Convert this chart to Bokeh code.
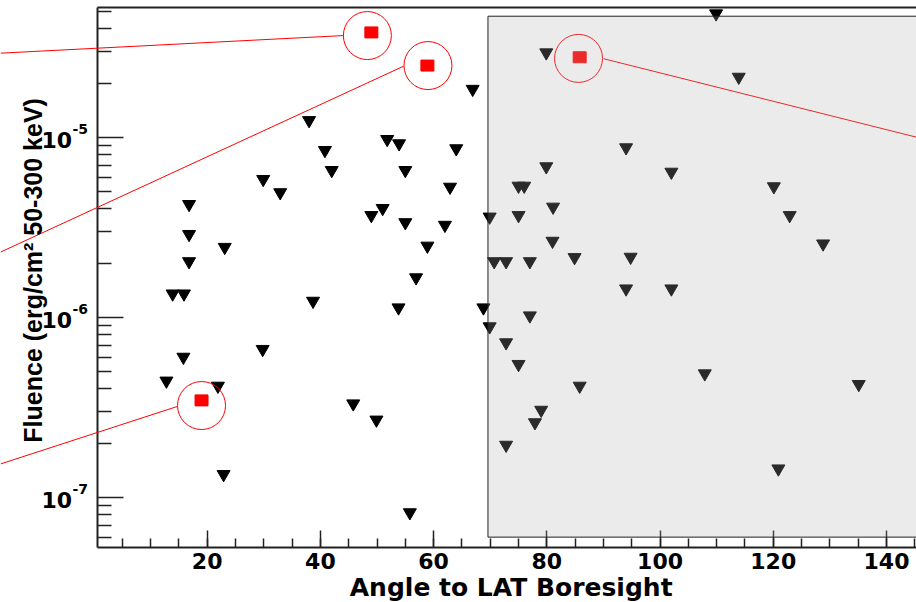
import math
from bokeh.plotting import figure
from bokeh.models import (Range1d, SingleIntervalTicker, FixedTicker, CustomJSTickFormatter,
                          Label, BoxAnnotation, Arrow)
from bokeh.embed import file_html
from bokeh.resources import INLINE

# ---------------- data ----------------
angle = [12.8, 13.9, 15.9, 15.8, 16.8, 16.8, 16.8, 21.9, 22.9, 23.1, 29.9, 32.9, 29.8,
         38.0, 40.8, 42.0, 51.8, 53.9, 55.0, 64.0, 62.9, 66.9, 79.9, 79.9, 75.0, 76.0,
         109.9, 113.9, 94.0, 102.0, 120.1, 51.0, 49.0, 55.0, 62.0, 69.9, 75.0, 81.1,
         58.9, 81.0, 70.7, 72.8, 77.0, 84.9, 56.9, 38.7, 53.8, 68.8, 69.9, 77.0, 72.8,
         75.0, 85.8, 122.9, 128.8, 94.8, 94.0, 102.0, 107.9, 135.1, 45.8, 49.9, 55.8,
         79.0, 77.9, 72.8, 120.9]
fluence = [4.43e-7, 1.35e-6, 1.35e-6, 6.01e-7, 4.24e-6, 2.89e-6, 2.04e-6, 4.15e-7, 1.34e-7,
           2.45e-6, 5.84e-6, 4.93e-6, 6.64e-7, 1.24e-5, 8.46e-6, 6.55e-6, 9.74e-6, 9.22e-6,
           6.55e-6, 8.65e-6, 5.29e-6, 1.85e-5, 2.95e-5, 6.87e-6, 5.36e-6, 5.36e-6, 4.86e-5,
           2.16e-5, 8.76e-6, 6.41e-6, 5.32e-6, 4.03e-6, 3.68e-6, 3.36e-6, 3.25e-6, 3.61e-6,
           3.68e-6, 4.10e-6, 2.49e-6, 2.65e-6, 2.04e-6, 2.04e-6, 2.04e-6, 2.15e-6, 1.66e-6,
           1.23e-6, 1.13e-6, 1.13e-6, 8.87e-7, 1.02e-6, 7.23e-7, 5.48e-7, 4.15e-7, 3.68e-6,
           2.56e-6, 2.16e-6, 1.44e-6, 1.44e-6, 4.86e-7, 4.24e-7, 3.31e-7, 2.69e-7, 8.22e-8,
           3.05e-7, 2.60e-7, 1.95e-7, 1.44e-7]

# detected bursts (red squares)
det_angle = [49.0, 58.9, 85.8, 19.0]
det_fluence = [3.82e-5, 2.50e-5, 2.78e-5, 3.45e-7]

# callout circles around detections
ring_angle = [48.3, 59.0, 85.6, 19.0]
ring_fluence = [3.67e-5, 2.50e-5, 2.74e-5, 3.23e-7]

# callout lines (start at ring edge, run off towards insets)
call_x0 = [44.1, 54.7, 90.0, 14.7]
call_y0 = [3.67e-5, 2.48e-5, 2.73e-5, 3.19e-7]
call_x1 = [-16.5, -16.5, 145.3, -16.5]
call_y1 = [2.93e-5, 2.30e-6, 1.00e-5, 1.53e-7]

# shaded region
region_left = 69.6
region_top = 4.70e-5
region_bottom = 6.0e-8

x_ticks_interval = 20
y_major = [1e-7, 1e-6, 1e-5]
y_exponents = ["-7", "-6", "-5"]
x_title = "Angle to LAT Boresight"
y_title = "Fluence (erg/cm\u00b2 50-300 keV)"

# ---------------- axes extent ----------------
# axis box (frame of the original plot)
X0, X1 = 0.62, 145.3
Y0, Y1 = 10 ** -7.279, 10 ** -4.279
# full-canvas view range (the original picture is cropped around the axes)
VX0, VX1 = -16.51, 145.30
VY0, VY1 = 10 ** -7.585, 10 ** -4.2406

AX = "#222222"
FONT = "DejaVu Sans"

p = figure(width=916, height=602, output_backend="svg", toolbar_location=None, title=None,
           x_range=Range1d(VX0, VX1), y_range=Range1d(VY0, VY1), y_axis_type="log",
           min_border_left=0, min_border_right=0, min_border_top=0, min_border_bottom=0)
p.outline_line_color = None
p.background_fill_color = "white"
p.border_fill_color = "white"
p.xgrid.visible = False
p.ygrid.visible = False

xa = p.xaxis[0]
xa.fixed_location = Y0
xa.bounds = (X0, X1)
xa.ticker = SingleIntervalTicker(interval=x_ticks_interval, num_minor_ticks=4)
xa.major_label_text_font = FONT
xa.major_label_text_font_style = "bold"
xa.major_label_text_font_size = "22px"
xa.major_label_text_color = "black"
xa.major_label_standoff = 6
xa.major_tick_in = 17
xa.major_tick_out = 0
xa.minor_tick_in = 9
xa.minor_tick_out = 0
xa.axis_line_width = 2
xa.axis_line_color = AX
xa.major_tick_line_color = AX
xa.minor_tick_line_color = AX
xa.major_tick_line_width = 1.5
xa.minor_tick_line_width = 1.5

minor = [m * 10.0 ** e for e in range(-8, -3) for m in range(2, 10)]
minor = [v for v in minor if Y0 <= v <= Y1]
ya = p.yaxis[0]
ya.fixed_location = X0
ya.bounds = (Y0, Y1)
ya.ticker = FixedTicker(ticks=y_major, minor_ticks=minor)
ya.formatter = CustomJSTickFormatter(code="return ''")
ya.major_tick_in = 26
ya.major_tick_out = 0
ya.minor_tick_in = 14
ya.minor_tick_out = 0
ya.axis_line_width = 2
ya.axis_line_color = AX
ya.major_tick_line_color = AX
ya.minor_tick_line_color = AX
ya.major_tick_line_width = 1.5
ya.minor_tick_line_width = 1.5

# top frame border
p.segment(x0=[X0], y0=[Y1], x1=[X1], y1=[Y1], line_color=AX, line_width=2)

# ---------------- marks ----------------
p.scatter(angle, fluence, marker="inverted_triangle", size=13, color="black")
p.rect(det_angle, det_fluence, width=13, height=11, width_units="screen",
       height_units="screen", color="red")
p.scatter(ring_angle, ring_fluence, marker="circle", size=48, fill_color=None,
          line_color="red", line_width=1)

for xs, ys, xe, ye in zip(call_x0, call_y0, call_x1, call_y1):
    p.add_layout(Arrow(end=None, x_start=xs, y_start=ys, x_end=xe, y_end=ye,
                       line_color="red", line_width=1))

p.add_layout(BoxAnnotation(left=region_left, right=150, top=region_top, bottom=region_bottom,
                           fill_color="#adadad", fill_alpha=0.243,
                           line_color="#222222", line_width=1, line_alpha=1.0))

# ---------------- y tick labels 10^n ----------------
for t, ex in zip(y_major, y_exponents):
    p.add_layout(Label(x=X0, y=t, x_offset=-25.3, y_offset=-3, text="10",
                       text_align="right", text_baseline="alphabetic",
                       text_font=FONT, text_font_style="bold", text_font_size="22px",
                       text_color="black"))
    p.add_layout(Label(x=X0, y=t, x_offset=-25.0, y_offset=8, text=ex,
                       text_align="left", text_baseline="alphabetic",
                       text_font=FONT, text_font_style="bold", text_font_size="14px",
                       text_color="black"))

# ---------------- axis titles ----------------
p.add_layout(Label(x=73.7, y=Y0, y_offset=-40, text=x_title, text_align="center",
                   text_baseline="alphabetic", text_font=FONT, text_font_style="bold",
                   text_font_size="25px", text_color="black"))
p.add_layout(Label(x=X0, x_offset=-64, y=1.82e-6, text=y_title, angle=90, angle_units="deg",
                   text_align="center", text_baseline="middle", text_font="Liberation Sans",
                   text_font_style="bold", text_font_size="25px", text_color="black"))

open("out.html", "w").write(file_html(p, INLINE))
